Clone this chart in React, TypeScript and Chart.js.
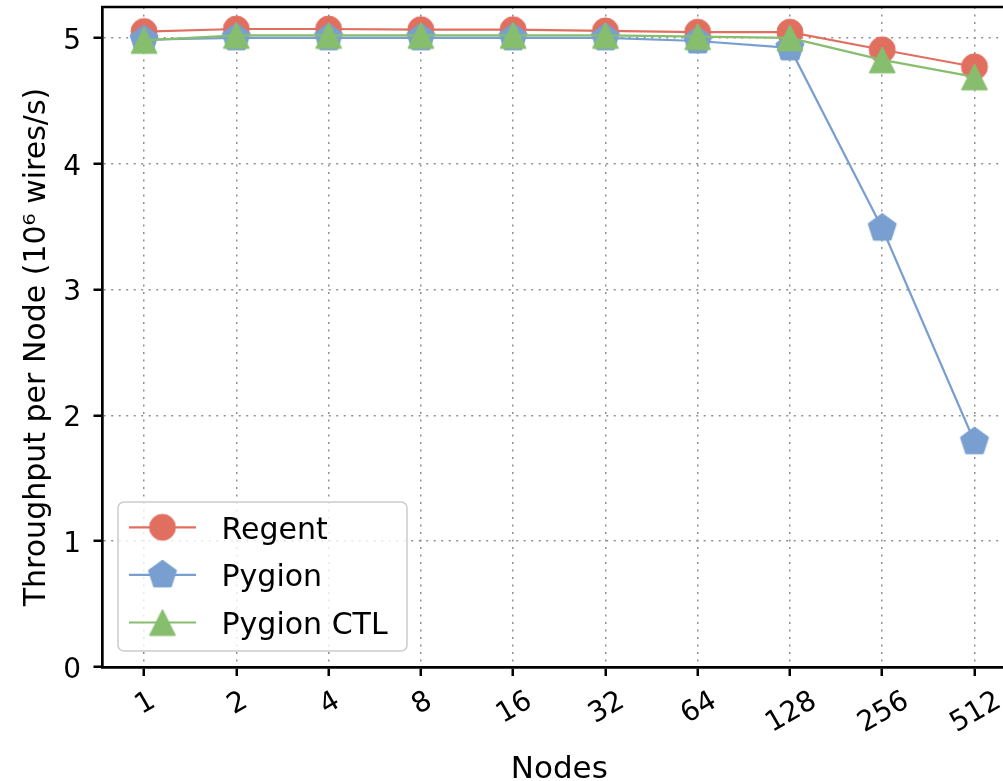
import React, { useEffect, useRef } from 'react';
import { Chart, registerables } from 'chart.js';

Chart.register(...registerables);

// ---- data ----
const NODES = ['1', '2', '4', '8', '16', '32', '64', '128', '256', '512'];
const REGENT = [5.05, 5.07, 5.07, 5.065, 5.065, 5.055, 5.045, 5.045, 4.905, 4.77];
const PYGION = [4.985, 5.0, 5.0, 5.0, 5.0, 5.0, 4.975, 4.92, 3.487, 1.79];
const PYGION_CTL = [4.98, 5.02, 5.02, 5.02, 5.02, 5.02, 5.01, 5.0, 4.825, 4.69];
const Y_TICKS = [0, 1, 2, 3, 4, 5];
const SERIES_NAMES = ['Regent', 'Pygion', 'Pygion CTL'];
const X_TITLE = 'Nodes';
const Y_TITLE = 'Throughput per Node (10\u2076 wires/s)';

// ---- style ----
const RED = '#E16F60';
const BLUE = '#789FCF';
const GREEN = '#86BE6E';
const GRID = '#8f8f8f';
const FONT = '"DejaVu Sans"';
const W = 1040;
const H = 781;

type Kind = 'circle' | 'pentagon' | 'triangle';

function makeMarker(kind: Kind, color: string): HTMLCanvasElement {
  const c = document.createElement('canvas');
  c.width = 36;
  c.height = 36;
  const g = c.getContext('2d')!;
  g.fillStyle = color;
  g.strokeStyle = color;
  g.lineWidth = 1;
  const cx = 18, cy = 18;
  g.beginPath();
  if (kind === 'circle') {
    g.arc(cx, cy, 13, 0, Math.PI * 2);
  } else if (kind === 'pentagon') {
    const R = 14.8;
    for (let k = 0; k < 5; k++) {
      const ang = -Math.PI / 2 + (k * 2 * Math.PI) / 5;
      const px = cx + R * Math.cos(ang);
      const py = cy + R * Math.sin(ang);
      if (k === 0) g.moveTo(px, py); else g.lineTo(px, py);
    }
    g.closePath();
  } else {
    const s = 13;
    g.moveTo(cx, cy - s);
    g.lineTo(cx - s, cy + s);
    g.lineTo(cx + s, cy + s);
    g.closePath();
  }
  g.fill();
  g.stroke();
  return c;
}

export default function App() {
  const ref = useRef<HTMLCanvasElement | null>(null);

  useEffect(() => {
    if (!ref.current) return;
    const markers = [
      makeMarker('circle', RED),
      makeMarker('pentagon', BLUE),
      makeMarker('triangle', GREEN),
    ];
    const colors = [RED, BLUE, GREEN];
    const seriesValues = [REGENT, PYGION, PYGION_CTL];

    const overlay = {
      id: 'overlay',
      afterDraw(chart: any) {
        const ctx: CanvasRenderingContext2D = chart.ctx;
        const a = chart.chartArea;
        const xs = chart.scales.x;
        const ys = chart.scales.y;
        ctx.save();
        // top and right spines
        ctx.strokeStyle = '#000';
        ctx.lineWidth = 2.7;
        ctx.beginPath();
        ctx.moveTo(a.left - 1.35, a.top);
        ctx.lineTo(a.right + 1.35, a.top);
        ctx.moveTo(a.right, a.top);
        ctx.lineTo(a.right, a.bottom);
        ctx.stroke();

        // y tick labels
        ctx.fillStyle = '#000';
        ctx.font = `28px ${FONT}`;
        ctx.textAlign = 'right';
        ctx.textBaseline = 'alphabetic';
        Y_TICKS.forEach((v) => {
          ctx.fillText(String(v), a.left - 21.5, ys.getPixelForValue(v) + 11);
        });

        // x tick labels (rotated 30deg, centred on tick)
        const h = 0.729 * 28;
        NODES.forEach((lab, i) => {
          const x = xs.getPixelForValue(i);
          const w = ctx.measureText(lab).width;
          const cy = a.bottom + 21 + (w * 0.5 + h * 0.866) / 2;
          ctx.save();
          ctx.translate(x, cy);
          ctx.rotate(-Math.PI / 6);
          ctx.textAlign = 'center';
          ctx.fillText(lab, 0, h / 2);
          ctx.restore();
        });

        // axis titles
        ctx.font = `31px ${FONT}`;
        ctx.textAlign = 'center';
        ctx.fillText(X_TITLE, (a.left + a.right) / 2, 777.5);

        ctx.save();
        ctx.font = `30px ${FONT}`;
        ctx.translate(45, (a.top + a.bottom) / 2 + 10);
        ctx.rotate(-Math.PI / 2);
        ctx.textAlign = 'center';
        ctx.fillText(Y_TITLE, 0, 0);
        ctx.restore();

        // legend
        const bx = a.left + 15.5;
        const by = a.bottom - 165;
        const bw = 289;
        const bh = 149;
        ctx.beginPath();
        (ctx as any).roundRect(bx, by, bw, bh, 6);
        ctx.fillStyle = 'rgba(255,255,255,0.8)';
        ctx.fill();
        ctx.strokeStyle = '#cccccc';
        ctx.lineWidth = 1.5;
        ctx.stroke();

        ctx.font = `30px ${FONT}`;
        ctx.textAlign = 'left';
        SERIES_NAMES.forEach((name, k) => {
          const ry = by + 25.3 + k * 47.6;
          ctx.strokeStyle = colors[k];
          ctx.lineWidth = 2.2;
          ctx.beginPath();
          ctx.moveTo(bx + 11, ry);
          ctx.lineTo(bx + 78, ry);
          ctx.stroke();
          const m = markers[k];
          ctx.drawImage(m, bx + 44.5 - m.width / 2, ry - m.height / 2);
          ctx.fillStyle = '#000';
          ctx.fillText(name, bx + 103.5, ry + 11.3);
        });
        ctx.restore();
      },
    };

    const datasets = SERIES_NAMES.map((name, k) => ({
      label: name,
      data: seriesValues[k].map((y, i) => ({ x: i, y })),
      borderColor: colors[k],
      backgroundColor: colors[k],
      borderWidth: 2.2,
      pointStyle: markers[k],
      pointRadius: 13,
      pointHoverRadius: 13,
      tension: 0,
      fill: false,
      order: 3 - k,
    }));

    const gridOpts = {
      color: GRID,
      lineWidth: 1.5,
      tickLength: 9,
      tickColor: '#000',
      tickWidth: 2.5,
      tickBorderDash: [],
    };
    const borderOpts = { display: true, color: '#000', width: 2.7, dash: [2, 5.5] };

    const chart = new Chart(ref.current, {
      type: 'line',
      data: { datasets },
      options: {
        responsive: false,
        animation: false,
        events: [],
        layout: {
          autoPadding: false,
          padding: { left: 93.5, right: 24, top: 7, bottom: 105 },
        },
        plugins: {
          legend: { display: false },
          tooltip: { enabled: false },
        },
        scales: {
          x: {
            type: 'linear',
            min: -0.45,
            max: 9.45,
            afterBuildTicks: (s: any) => {
              s.ticks = NODES.map((_, i) => ({ value: i }));
            },
            ticks: { display: false },
            grid: gridOpts,
            border: borderOpts,
          },
          y: {
            type: 'linear',
            min: 0,
            max: 5.245,
            afterBuildTicks: (s: any) => {
              s.ticks = Y_TICKS.map((v) => ({ value: v }));
            },
            ticks: { display: false },
            grid: gridOpts,
            border: borderOpts,
          },
        },
      } as any,
      plugins: [overlay],
    });

    return () => chart.destroy();
  }, []);

  return (
    <div
      style={{
        position: 'fixed',
        left: 0,
        top: 0,
        width: 1003,
        height: 781,
        overflow: 'hidden',
        background: '#fff',
      }}
    >
      <canvas ref={ref} width={W} height={H} style={{ display: 'block' }} />
    </div>
  );
}
